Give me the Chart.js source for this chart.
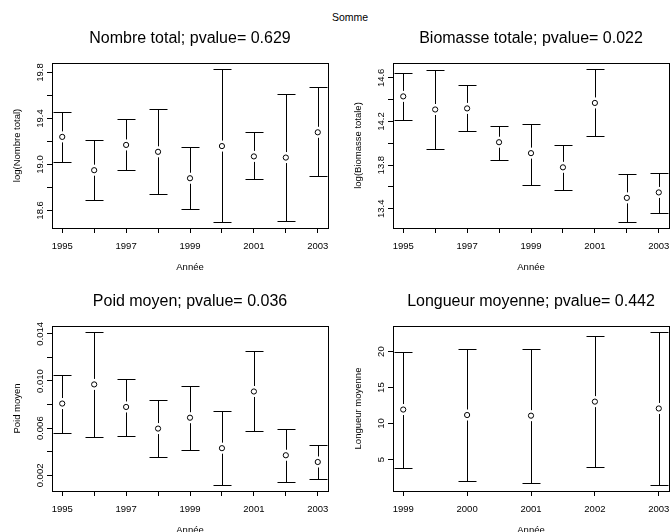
<!DOCTYPE html>
<html>
<head>
<meta charset="utf-8">
<script src="https://cdn.jsdelivr.net/npm/chart.js@4.4.0/dist/chart.umd.min.js"></script>
<style>
    html, body { margin: 0; padding: 0; background: #fff; overflow: hidden; width: 671px; height: 532px; }
    canvas { position: absolute; }
    #somme { position: absolute; left: 0; top: 11px; width: 700px; text-align: center;
             font: 10.5px "Liberation Sans", Arial, sans-serif; color: #000; }
</style>
</head>
<body>
<div id="somme">Somme</div>
<canvas id="c1" width="333" height="276" style="left:0;top:0"></canvas>
<canvas id="c2" width="333" height="276" style="left:341px;top:0"></canvas>
<canvas id="c3" width="333" height="276" style="left:0;top:263px"></canvas>
<canvas id="c4" width="333" height="276" style="left:341px;top:263px"></canvas>
<script>
// Years and x tick labels
const years = [1995, 1996, 1997, 1998, 1999, 2000, 2001, 2002, 2003];
const xTickText = ['1995', '', '1997', '', '1999', '', '2001', '', '2003'];
const yearsLong = [1999, 2000, 2001, 2002, 2003];
const xTickTextLong = ['1999', '2000', '2001', '2002', '2003'];

// Nombre total (log)
const nombreMean  = [19.24, 18.95, 19.17, 19.11, 18.88, 19.16, 19.07, 19.06, 19.28];
const nombreUpper = [19.46, 19.21, 19.40, 19.48, 19.15, 19.83, 19.28, 19.61, 19.67];
const nombreLower = [19.02, 18.69, 18.95, 18.74, 18.61, 18.50, 18.87, 18.51, 18.90];
const nombreTicks = [18.6, 18.8, 19.0, 19.2, 19.4, 19.6, 19.8];
const nombreTickText = ['18.6', '', '19.0', '', '19.4', '', '19.8'];

// Biomasse totale (log)
const biomMean  = [14.43, 14.31, 14.32, 14.01, 13.91, 13.78, 14.37, 13.50, 13.55];
const biomUpper = [14.64, 14.67, 14.53, 14.16, 14.18, 13.98, 14.68, 13.72, 13.73];
const biomLower = [14.21, 13.95, 14.11, 13.85, 13.62, 13.57, 14.07, 13.28, 13.36];
const biomTicks = [13.4, 13.6, 13.8, 14.0, 14.2, 14.4, 14.6];
const biomTickText = ['13.4', '', '13.8', '', '14.2', '', '14.6'];

// Poid moyen
const poidMean  = [0.00809, 0.00971, 0.00780, 0.00597, 0.00689, 0.00431, 0.00911, 0.00371, 0.00314];
const poidUpper = [0.01054, 0.01414, 0.01020, 0.00840, 0.00957, 0.00743, 0.01251, 0.00594, 0.00454];
const poidLower = [0.00560, 0.00529, 0.00534, 0.00354, 0.00417, 0.00120, 0.00577, 0.00143, 0.00174];
const poidTicks = [0.002, 0.004, 0.006, 0.008, 0.010, 0.012, 0.014];
const poidTickText = ['0.002', '', '0.006', '', '0.010', '', '0.014'];

// Longueur moyenne
const longMean  = [11.95, 11.19, 11.10, 13.05, 12.10];
const longUpper = [19.95, 20.33, 20.38, 22.14, 22.71];
const longLower = [3.81, 2.05, 1.81, 3.90, 1.48];
const longTicks = [5, 10, 15, 20];
const longTickText = ['5', '10', '15', '20'];

const FONT = '"Liberation Sans", Arial, Helvetica, sans-serif';
Chart.defaults.font.family = FONT;
Chart.defaults.color = '#000';

// R style axis range: data range plus 4% each side
function rRange(lo, hi) {
    const d = (hi - lo) * 0.04;
    return [lo - d, hi + d];
}

function errorBarPlugin(xs, mean, lower, upper) {
    return {
        id: 'errorBars',
        beforeDatasetsDraw(chart) {
            const ctx = chart.ctx;
            const sx = chart.scales.x, sy = chart.scales.y;
            const gap = 5.5, cap = 9;
            ctx.save();
            ctx.strokeStyle = '#000';
            ctx.lineWidth = 1;
            xs.forEach((v, i) => {
                const px = Math.round(sx.getPixelForValue(v)) + 0.5;
                const top = Math.round(sy.getPixelForValue(upper[i])) + 0.5;
                const mid = sy.getPixelForValue(mean[i]);
                const bot = Math.round(sy.getPixelForValue(lower[i])) + 0.5;
                ctx.beginPath();
                if (mid - gap > top) { ctx.moveTo(px, top); ctx.lineTo(px, mid - gap); }
                if (mid + gap < bot) { ctx.moveTo(px, mid + gap); ctx.lineTo(px, bot); }
                ctx.moveTo(px - cap, top); ctx.lineTo(px + cap, top);
                ctx.moveTo(px - cap, bot); ctx.lineTo(px + cap, bot);
                ctx.stroke();
            });
            ctx.restore();
        }
    };
}

// box, panel title (centred on plot region as in R) and rotated y tick labels
function framePlugin(title, yText) {
    return {
        id: 'frame',
        afterDraw(chart) {
            const ctx = chart.ctx, ca = chart.chartArea, sy = chart.scales.y;
            ctx.save();
            ctx.strokeStyle = '#000';
            ctx.lineWidth = 1;
            const l = Math.round(ca.left) + 0.5, t = Math.round(ca.top) + 0.5;
            ctx.strokeRect(l, t, Math.round(ca.right) - Math.round(ca.left), Math.round(ca.bottom) - Math.round(ca.top));

            ctx.fillStyle = '#000';
            ctx.textAlign = 'center';
            ctx.textBaseline = 'middle';
            ctx.font = '16px ' + FONT;
            ctx.fillText(title, (ca.left + ca.right) / 2, ca.top - 24.5);

            ctx.font = '9.5px ' + FONT;
            sy.ticks.forEach((tk, i) => {
                if (!yText[i]) return;
                ctx.save();
                ctx.translate(ca.left - 12, sy.getPixelForValue(tk.value));
                ctx.rotate(-Math.PI / 2);
                ctx.fillText(yText[i], 0, 0);
                ctx.restore();
            });
            ctx.restore();
        }
    };
}

function makePanel(id, title, yLabel, xs, xText, mean, lower, upper, yTicks, yText) {
    const xr = rRange(Math.min(...xs), Math.max(...xs));
    const yr = rRange(Math.min(...lower), Math.max(...upper));
    return new Chart(document.getElementById(id), {
        type: 'scatter',
        data: {
            datasets: [{
                data: xs.map((x, i) => ({ x: x, y: mean[i] })),
                pointRadius: 2.6,
                pointBackgroundColor: '#fff',
                pointBorderColor: '#000',
                pointBorderWidth: 1,
                showLine: false
            }]
        },
        options: {
            responsive: false,
            animation: false,
            devicePixelRatio: 1,
            layout: { padding: { left: 0, right: 2, top: 63, bottom: 0 } },
            plugins: {
                legend: { display: false },
                tooltip: { enabled: false },
                title: { display: false }
            },
            scales: {
                x: {
                    type: 'linear', min: xr[0], max: xr[1],
                    afterBuildTicks: s => { s.ticks = xs.map(v => ({ value: v })); },
                    afterFit: s => { s.height = 48; s.paddingLeft = 0; s.paddingRight = 0; },
                    ticks: {
                        autoSkip: false, maxRotation: 0, padding: 8,
                        font: { size: 9.5 },
                        callback: (v, i) => xText[i]
                    },
                    grid: { drawOnChartArea: false, drawTicks: true, tickLength: 5, color: '#000' },
                    border: { display: false },
                    title: { display: true, text: 'Année', font: { size: 9.5 }, padding: { top: 0, bottom: 3.3 } }
                },
                y: {
                    type: 'linear', min: yr[0], max: yr[1],
                    afterBuildTicks: s => { s.ticks = yTicks.map(v => ({ value: v })); },
                    afterFit: s => { s.width = 52; s.paddingTop = 0; s.paddingBottom = 0; },
                    ticks: { display: false },
                    grid: { drawOnChartArea: false, drawTicks: true, tickLength: 5, color: '#000' },
                    border: { display: false },
                    title: { display: true, text: yLabel, font: { size: 9.5 }, padding: { top: 11.3, bottom: 0 } }
                }
            }
        },
        plugins: [errorBarPlugin(xs, mean, lower, upper), framePlugin(title, yText)]
    });
}

makePanel('c1', 'Nombre total; pvalue= 0.629', 'log(Nombre total)', years, xTickText,
    nombreMean, nombreLower, nombreUpper, nombreTicks, nombreTickText);
makePanel('c2', 'Biomasse totale; pvalue= 0.022', 'log(Biomasse totale)', years, xTickText,
    biomMean, biomLower, biomUpper, biomTicks, biomTickText);
makePanel('c3', 'Poid moyen; pvalue= 0.036', 'Poid moyen', years, xTickText,
    poidMean, poidLower, poidUpper, poidTicks, poidTickText);
makePanel('c4', 'Longueur moyenne; pvalue= 0.442', 'Longueur moyenne', yearsLong, xTickTextLong,
    longMean, longLower, longUpper, longTicks, longTickText);
</script>
</body>
</html>
